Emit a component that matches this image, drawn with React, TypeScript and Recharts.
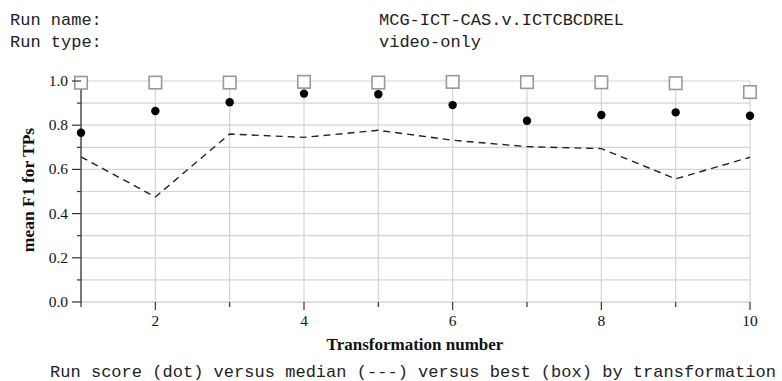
import React from 'react';
import {
  ComposedChart,
  Line,
  Scatter,
  CartesianGrid,
  XAxis,
  YAxis,
  Label,
} from 'recharts';

const transformations = [1, 2, 3, 4, 5, 6, 7, 8, 9, 10];
const runScores = [0.766, 0.864, 0.904, 0.943, 0.94, 0.891, 0.82, 0.846, 0.858, 0.843];
const medianScores = [0.657, 0.475, 0.76, 0.745, 0.777, 0.732, 0.703, 0.694, 0.557, 0.655];
const bestScores = [0.992, 0.993, 0.993, 0.996, 0.993, 0.996, 0.995, 0.994, 0.99, 0.95];

const xTicks = transformations;
const yTicks = [0, 0.1, 0.2, 0.3, 0.4, 0.5, 0.6, 0.7, 0.8, 0.9, 1.0];

const data = transformations.map((t, i) => ({
  t,
  run: runScores[i],
  median: medianScores[i],
  best: bestScores[i],
}));

const SERIF = '"Liberation Serif", "Times New Roman", serif';
const MONO = '"Liberation Mono", "Courier New", monospace';

const DotShape = (props: any) => {
  const { cx, cy } = props;
  if (cx == null || cy == null) return null;
  return <circle cx={cx} cy={cy} r={4.2} fill="#000" />;
};

const BoxShape = (props: any) => {
  const { cx, cy } = props;
  if (cx == null || cy == null) return null;
  const s = 12.5;
  return (
    <rect
      x={cx - s / 2}
      y={cy - s / 2}
      width={s}
      height={s}
      fill="#fff"
      stroke="#999"
      strokeWidth={1.6}
    />
  );
};

// x ticks: long mark + label on even numbers, short mark on odd
const XTick = (props: any) => {
  const { x, y, payload } = props;
  const major = payload.value % 2 === 0;
  return (
    <g>
      <line x1={x} x2={x} y1={y} y2={y + (major ? 8 : 5)} stroke="#333" strokeWidth={1.2} />
      {major && (
        <text x={x} y={y + 24} textAnchor="middle" fontFamily={SERIF} fontSize={15.5} fill="#111">
          {payload.value}
        </text>
      )}
    </g>
  );
};

// y ticks: long mark + label every 0.2, short mark every 0.1
const YTick = (props: any) => {
  const { x, y, payload } = props;
  const n = Math.round(payload.value * 10);
  const major = n % 2 === 0;
  return (
    <g>
      <line x1={x - (major ? 9 : 4)} x2={x} y1={y} y2={y} stroke="#333" strokeWidth={1.2} />
      {major && (
        <text x={x - 13} y={y + 5} textAnchor="end" fontFamily={SERIF} fontSize={15.5} fill="#111">
          {payload.value.toFixed(1)}
        </text>
      )}
    </g>
  );
};

export default function App() {
  return (
    <div style={{ position: 'absolute', left: 0, top: 0, width: 782, height: 381, background: '#fff' }}>
      <ComposedChart
        width={782}
        height={381}
        data={data}
        margin={{ top: 81, right: 32, left: 0, bottom: 49 }}
      >
        <CartesianGrid stroke="#d4d4d4" strokeWidth={1.2} />
        <XAxis
          dataKey="t"
          type="number"
          domain={[1, 10]}
          ticks={xTicks}
          interval={0}
          height={30}
          tickSize={0}
          tickMargin={0}
          axisLine={{ stroke: '#d4d4d4' }}
          tickLine={false}
          tick={<XTick />}
        >
          <Label
            content={() => (
              <text
                x={415}
                y={350}
                textAnchor="middle"
                fontFamily={SERIF}
                fontWeight="bold"
                fontSize={17}
                fill="#111"
              >
                Transformation number
              </text>
            )}
          />
        </XAxis>
        <YAxis
          type="number"
          domain={[0, 1]}
          ticks={yTicks}
          interval={0}
          width={81}
          tickSize={0}
          tickMargin={0}
          axisLine={{ stroke: '#555', strokeWidth: 1.5 }}
          tickLine={false}
          tick={<YTick />}
        >
          <Label
            content={() => (
              <text
                x={28}
                y={190}
                transform="rotate(-90 28 190)"
                textAnchor="middle"
                dominantBaseline="central"
                fontFamily={SERIF}
                fontWeight="bold"
                fontSize={17.5}
                fill="#111"
              >
                mean F1 for TPs
              </text>
            )}
          />
        </YAxis>
        <Line
          dataKey="median"
          type="linear"
          stroke="#222"
          strokeWidth={1.4}
          strokeDasharray="7 5"
          dot={false}
          activeDot={false}
          isAnimationActive={false}
        />
        <Scatter dataKey="run" shape={DotShape} isAnimationActive={false} />
        <Scatter dataKey="best" shape={BoxShape} isAnimationActive={false} />
      </ComposedChart>
      <svg
        width={782}
        height={381}
        style={{ position: 'absolute', left: 0, top: 0, pointerEvents: 'none' }}
      >
        <g fontFamily={MONO} fontSize={17} fill="#222">
          <text x={10} y={25}>Run name:</text>
          <text x={379} y={25}>MCG-ICT-CAS.v.ICTCBCDREL</text>
          <text x={10} y={47}>Run type:</text>
          <text x={379} y={47}>video-only</text>
          <text x={50} y={377} textLength={726} lengthAdjust="spacing">
            Run score (dot) versus median (---) versus best (box) by transformation
          </text>
        </g>
      </svg>
    </div>
  );
}
